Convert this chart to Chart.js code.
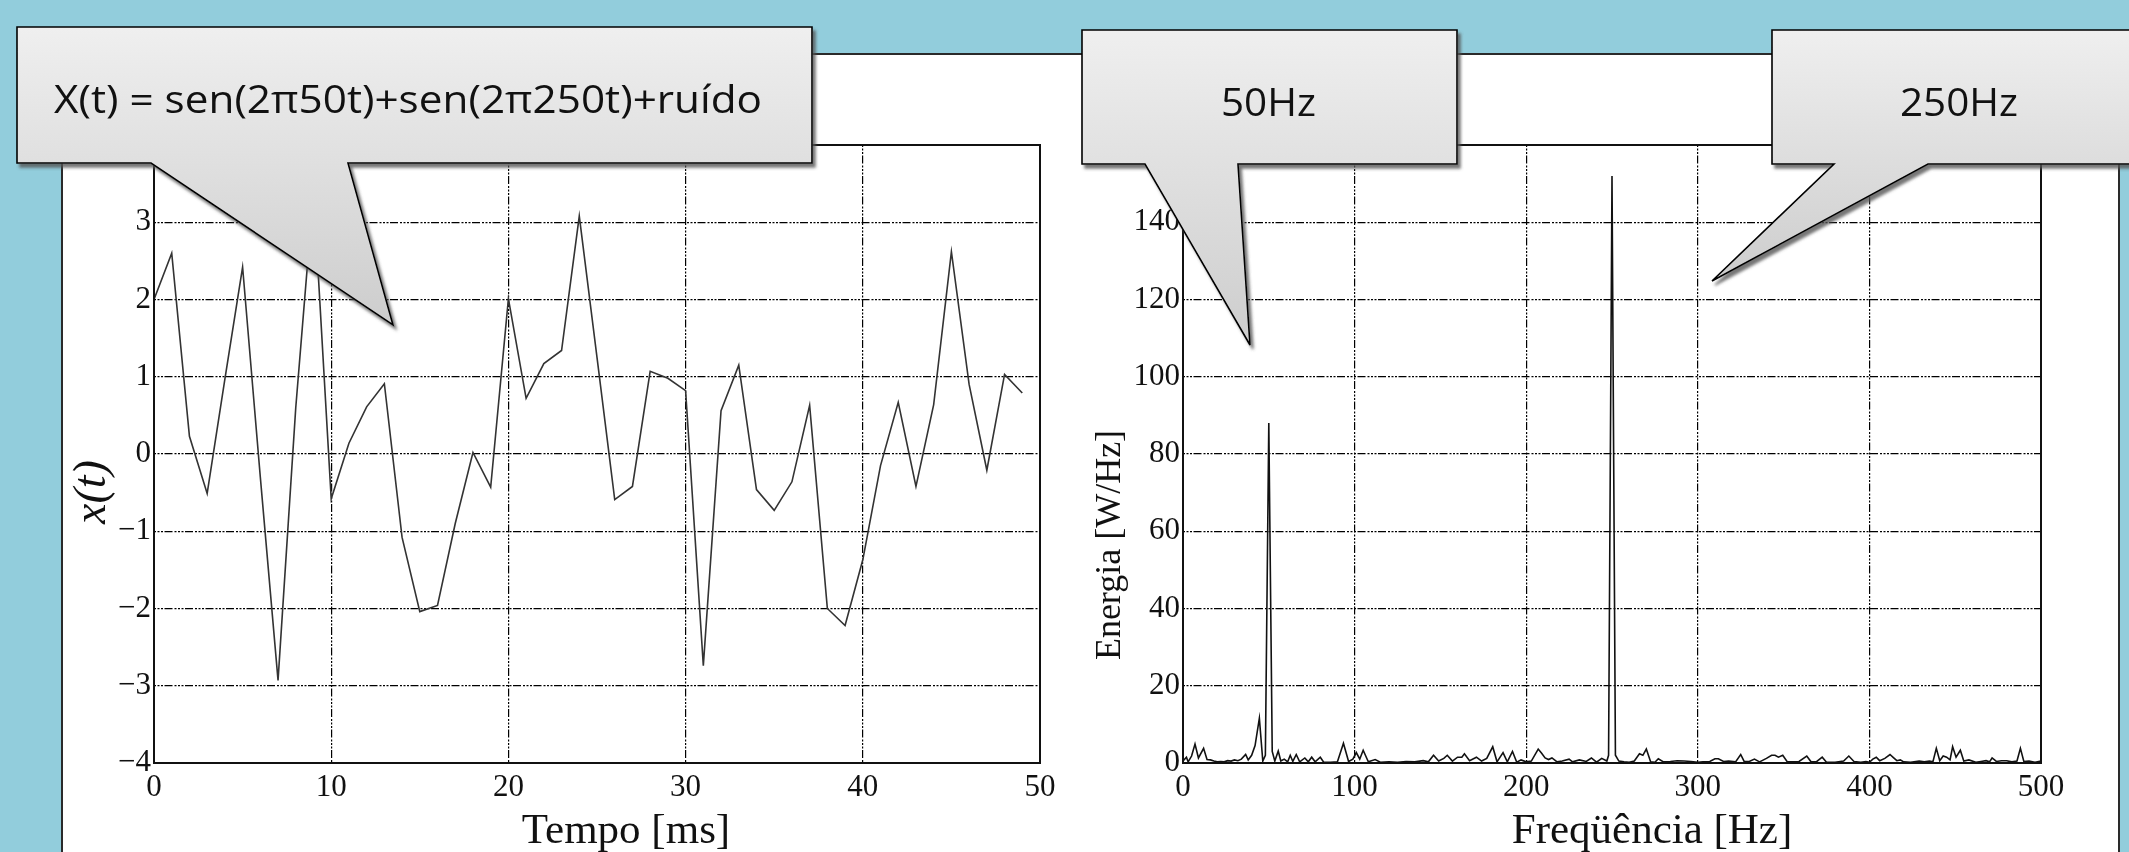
<!DOCTYPE html>
<html lang="pt-BR">
<head>
<meta charset="utf-8">
<title>Sinal e espectro</title>
<script src="https://cdn.jsdelivr.net/npm/chart.js@4.4.1/dist/chart.umd.min.js"></script>
<style>
  html, body { margin: 0; padding: 0; }
  body { width: 2129px; height: 852px; background: #92cddc; position: relative; overflow: hidden; }
  #painel { position: absolute; left: 61px; top: 53px; width: 2055px; height: 820px;
            background: #fff; border: 2px solid #2a2a2a; }
  canvas { position: absolute; top: 0; }
  #graficoTempo { left: 0; }
  #graficoFreq { left: 1065px; }
  #baloes { position: absolute; left: 0; top: 0; }
</style>
</head>
<body>
<div id="painel"></div>
<canvas id="graficoTempo" width="1065" height="852"></canvas>
<canvas id="graficoFreq" width="1064" height="852"></canvas>

<!-- Balões de texto (callouts) por cima dos gráficos -->
<svg id="baloes" width="2129" height="852" xmlns="http://www.w3.org/2000/svg">
  <defs>
    <linearGradient id="cinza" x1="0" y1="0" x2="0" y2="1">
      <stop offset="0" stop-color="#efefef"/>
      <stop offset="1" stop-color="#cdcdcd"/>
    </linearGradient>
    <filter id="sombra" x="-10%" y="-10%" width="130%" height="130%">
      <feDropShadow dx="3" dy="4" stdDeviation="1.5" flood-color="#555" flood-opacity="0.8"/>
    </filter>
  </defs>
  <g fill="url(#cinza)" stroke="#000" stroke-width="1.6" filter="url(#sombra)">
    <path d="M17,27 H812 V163 H348 L393,325 L151,163 H17 Z"/>
    <path d="M1082,30 H1457 V164 H1238 L1250,345 L1145,164 H1082 Z"/>
    <path d="M1772,30 H2140 V164 H1928 L1712,281 L1834,164 H1772 Z"/>
  </g>
  <g font-family="Open Sans, sans-serif" font-size="39" fill="#111">
    <text x="54" y="113" textLength="708" lengthAdjust="spacingAndGlyphs">X(t) = sen(2π50t)+sen(2π250t)+ruído</text>
    <text x="1221" y="116" textLength="95" lengthAdjust="spacingAndGlyphs">50Hz</text>
    <text x="1900" y="116" textLength="118" lengthAdjust="spacingAndGlyphs">250Hz</text>
  </g>
</svg>

<script>
// Sinal no tempo: x(t) amostrado a cada 1 ms
const tempo = [0, 1, 2, 3, 4, 5, 6, 7, 8, 9, 10, 11, 12, 13, 14, 15, 16, 17, 18, 19,
               20, 21, 22, 23, 24, 25, 26, 27, 28, 29, 30, 31, 32, 33, 34, 35, 36, 37, 38, 39,
               40, 41, 42, 43, 44, 45, 46, 47, 48, 49];
const sinal = [2.0, 2.6, 0.23, -0.51, 0.97, 2.42, -0.3, -2.93, 0.6, 3.4,
               -0.58, 0.14, 0.61, 0.91, -1.08, -2.04, -1.96, -0.9, 0.02, -0.43,
               2.01, 0.72, 1.17, 1.34, 3.08, 1.25, -0.59, -0.42, 1.07, 0.98,
               0.82, -2.74, 0.56, 1.15, -0.46, -0.73, -0.36, 0.63, -2.0, -2.22,
               -1.37, -0.15, 0.67, -0.42, 0.64, 2.62, 0.9, -0.21, 1.03, 0.79];

// Espectro: frequência [Hz] e energia [W/Hz]
const frequencia = [0, 2, 3, 5, 7, 9, 12, 14, 16, 18, 20, 22, 24, 26, 28, 30, 32, 34, 36.5, 38,
  40, 42, 44.5, 46.5, 48, 50, 52, 53.5, 55.5, 57, 59, 61, 62.5, 64, 66, 68, 71, 73, 75, 77,
  80, 82, 86, 90, 93.5, 96.5, 99, 101, 103, 105, 108, 112, 115, 120, 125, 130, 135, 140, 143, 146,
  149, 152, 154, 157, 160, 162.5, 164, 167, 171, 174, 177, 180.5, 183, 186.5, 189, 192, 194.5, 197, 200, 203,
  207, 209, 211, 213, 215, 218, 221, 225, 227, 231, 235, 238, 241, 244, 247, 248, 250, 252, 254, 257,
  260, 263, 266, 268, 270, 272.5, 275, 277, 280, 284, 288, 292, 296, 300, 303, 307, 310, 312, 315, 318,
  322, 325, 327, 330, 333, 336, 340, 343, 345, 347, 349.5, 352, 355, 359, 363.5, 366, 369, 372.5, 375, 380,
  385, 388, 391, 395, 398, 400, 402, 404, 406, 409, 412, 414, 416, 418, 420, 424, 429, 432, 435, 437,
  439, 441, 443, 445, 447, 448.5, 450.5, 453, 455, 458, 462, 465, 468, 470, 471.5, 474, 477, 480, 483, 486,
  488, 490, 493, 496.5, 500];
const energia = [0.5, 1.5, 0.3, 1.8, 4.9, 1.3, 3.8, 0.9, 0.8, 0.5, 0.3, 0.4, 0.3, 0.6, 0.5, 0.8, 0.6, 1.0, 2.2, 0.8,
  2.0, 4.5, 11.6, 0.5, 2.0, 88, 3.0, 0.5, 3.1, 0.5, 1.0, 0.3, 2.0, 0.4, 2.2, 0.3, 1.3, 0.3, 1.5, 0.3,
  1.5, 0.2, 0.2, 0.3, 5.1, 0.4, 1.0, 2.7, 1.0, 3.3, 0.3, 0.9, 0.2, 0.3, 0.2, 0.4, 0.3, 0.6, 0.3, 2.0,
  0.5, 1.2, 2.0, 0.5, 1.5, 1.5, 2.4, 0.6, 1.5, 0.5, 1.2, 4.2, 0.3, 2.7, 0.3, 3.0, 0.2, 0.8, 0.3, 0.5,
  3.6, 2.5, 1.3, 0.9, 1.3, 0.3, 0.5, 1.0, 0.3, 0.8, 0.4, 1.3, 0.2, 1.2, 0.5, 2.0, 152, 2.0, 0.5, 0.3,
  0.2, 0.5, 2.4, 2.0, 3.6, 0.3, 0.2, 1.1, 0.3, 0.4, 0.6, 0.5, 0.4, 0.2, 0.3, 0.4, 1.1, 1.1, 0.4, 0.5,
  0.3, 2.2, 0.4, 0.4, 1.0, 0.3, 1.2, 2.0, 2.0, 1.5, 2.0, 0.4, 0.3, 0.4, 1.8, 0.3, 0.3, 1.5, 0.2, 0.2,
  0.5, 1.8, 0.4, 0.2, 0.4, 0.2, 1.0, 1.5, 0.6, 1.2, 2.2, 1.4, 0.6, 0.8, 0.3, 0.2, 0.5, 0.3, 0.5, 0.3,
  3.8, 0.6, 1.8, 1.5, 0.8, 4.2, 1.5, 3.3, 0.5, 0.8, 0.2, 0.4, 0.6, 0.3, 1.3, 0.4, 0.6, 0.6, 0.3, 0.5,
  3.8, 0.4, 0.5, 0.2, 0.5];

// Plugin: moldura em volta da área do gráfico e títulos dos eixos
const molduraPlugin = {
  id: 'moldura',
  afterDraw(chart, args, opts) {
    const { ctx, chartArea: a } = chart;
    ctx.save();
    ctx.strokeStyle = '#111';
    ctx.lineWidth = 2;
    ctx.strokeRect(a.left, a.top, a.right - a.left, a.bottom - a.top);
    (opts.titulos || []).forEach(t => {
      ctx.save();
      ctx.translate(t.x, t.y);
      ctx.rotate(t.rot || 0);
      ctx.font = t.fonte;
      ctx.fillStyle = '#111';
      ctx.textAlign = 'center';
      ctx.textBaseline = 'middle';
      ctx.fillText(t.texto, 0, 0);
      ctx.restore();
    });
    ctx.restore();
  }
};

const fonteTicks = { family: 'Liberation Serif', size: 31 };
// grade escura, tracejado ponto-traço como no original
const grade = { color: '#000', lineWidth: 1.2, drawTicks: false };
const bordaTracejada = { display: false, dash: [2, 1.5, 2, 1.5, 2, 1.5, 8, 2] };

// Formata negativos com o sinal de menos tipográfico
function rotulo(v, oculto) {
  if (v === oculto) return '';
  return v < 0 ? '\u2212' + Math.abs(v) : String(v);
}

function criarGrafico(id, pontos, cfg) {
  const ctx = document.getElementById(id).getContext('2d');
  return new Chart(ctx, {
    type: 'line',
    data: {
      datasets: [{
        data: pontos,
        borderColor: cfg.cor,
        borderWidth: 1.6,
        pointRadius: 0,
        tension: 0,
        fill: false
      }]
    },
    options: {
      responsive: false,
      animation: false,
      layout: { padding: { top: 145, right: cfg.direita, left: 0, bottom: 0 } },
      plugins: {
        legend: { display: false },
        tooltip: { enabled: false },
        moldura: { titulos: cfg.titulos }
      },
      scales: {
        x: {
          type: 'linear',
          min: cfg.xMin, max: cfg.xMax,
          grid: grade,
          border: bordaTracejada,
          ticks: { stepSize: cfg.xPasso, font: fonteTicks, color: '#111', padding: 6, maxRotation: 0 },
          afterFit: s => { s.height = 89; }
        },
        y: {
          min: cfg.yMin, max: cfg.yMax,
          grid: grade,
          border: bordaTracejada,
          ticks: { stepSize: cfg.yPasso, font: fonteTicks, color: '#111', padding: 3,
                   callback: v => rotulo(v, cfg.yMax) },
          afterFit: s => { s.width = cfg.larguraY; }
        }
      }
    },
    plugins: [molduraPlugin]
  });
}

// Gráfico do sinal no tempo
criarGrafico('graficoTempo', tempo.map((t, i) => ({ x: t, y: sinal[i] })), {
  cor: '#333', direita: 25, larguraY: 154,
  xMin: 0, xMax: 50, xPasso: 10, yMin: -4, yMax: 4, yPasso: 1,
  titulos: [
    { texto: 'x(t)', x: 93, y: 492, rot: -Math.PI / 2, fonte: 'italic 46px "Liberation Serif"' },
    { texto: 'Tempo [ms]', x: 626, y: 832, fonte: '43px "Liberation Serif"' }
  ]
});

// Gráfico do espectro de energia
criarGrafico('graficoFreq', frequencia.map((f, i) => ({ x: f, y: energia[i] })), {
  cor: '#111', direita: 88, larguraY: 118,
  xMin: 0, xMax: 500, xPasso: 100, yMin: 0, yMax: 160, yPasso: 20,
  titulos: [
    { texto: 'Energia [W/Hz]', x: 46, y: 545, rot: -Math.PI / 2, fonte: '36px "Liberation Serif"' },
    { texto: 'Freqüência [Hz]', x: 587, y: 832, fonte: '43px "Liberation Serif"' }
  ]
});
</script>
</body>
</html>
